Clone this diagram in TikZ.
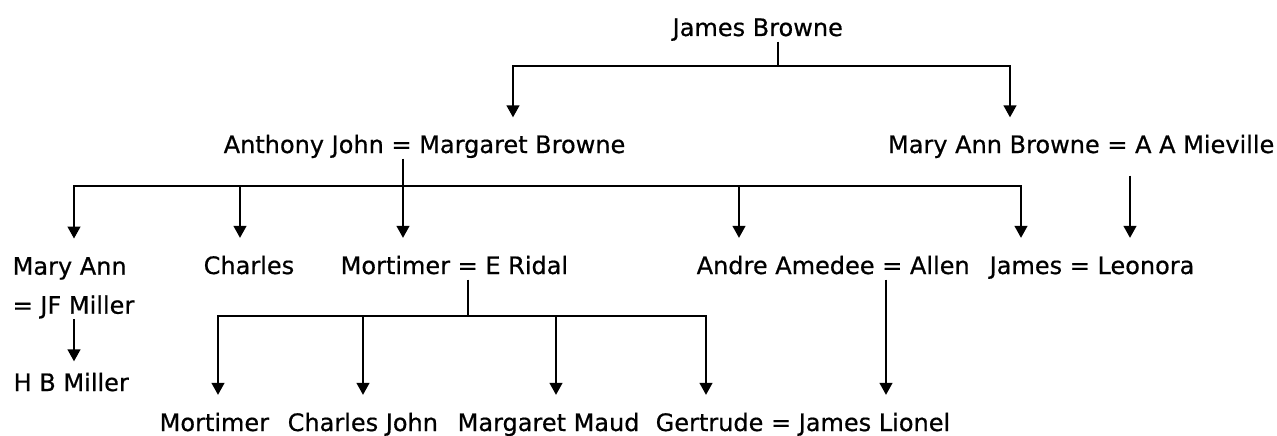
\documentclass[tikz,border=0pt]{standalone}
\usepackage{fontspec}
\setmainfont[FakeBold=0.6]{DejaVu Sans}
\usepackage{tikz}
\usetikzlibrary{arrows.meta}

\begin{document}
\begin{tikzpicture}[>={Triangle[length=12pt,width=13pt]},x=1pt,y=-1pt,
                    line width=1.4pt,font=\fontsize{24}{29}\selectfont]
  \tikzstyle{person}=[inner sep=0pt,text height=17.5pt,text depth=5pt,
    anchor=base west]
  \tikzstyle{couple}=[inner sep=0pt,align=left,anchor=north west,
    font=\fontsize{24}{39}\selectfont]
  \tikzstyle{child}=[->,shorten >=18pt]
  \useasboundingbox (0,0) rectangle (1277,436);
  \node[person] (jb) at (672,36) {James Browne};
  \node[person] (aj) at (223,153) {Anthony John = Margaret Browne};
  \node[person,anchor=base east] (mab) at (1275,153) {Mary Ann Browne = A A Mieville};
  \node[couple] (ma) at (12,256.5) {Mary Ann\\= JF Miller};
  \node[person] (ch) at (203,274) {Charles};
  \node[person] (mr) at (340,274) {Mortimer = E Ridal};
  \node[person] (aa) at (696,274) {Andre Amedee = Allen};
  \node[person] (jl) at (989,274) {James = Leonora};
  \node[person] (hb) at (13,391) {H B Miller};
  \node[person] (mo) at (159,431) {Mortimer};
  \node[person] (cj) at (287,431) {Charles John};
  \node[person] (mm) at (457,431) {Margaret Maud};
  \node[person] (ge) at (655,431) {Gertrude = James Lionel};
  \coordinate (jb-fork) at (778,66);
  \coordinate (aj-fork) at (403,186);
  \coordinate (mr-fork) at (468,316);
  % James Browne
  \draw (jb.south -| jb-fork) -- (jb-fork);
  \draw[child,shorten >=17.5pt] (jb-fork) -| (aj.north -| 513,0);
  \draw[child,shorten >=17.5pt] (jb-fork) -| (mab.north -| 1010,0);
  % Anthony John
  \draw (aj.south -| aj-fork) -- (aj-fork);
  \draw[child] (aj-fork) -| (ma.north -| 74,0);
  \draw[child] (aj-fork) -| (ch.north -| 240,0);
  \draw[child] (aj-fork) -| (mr.north -| 403,0);
  \draw[child] (aj-fork) -| (aa.north -| 739,0);
  \draw[child] (aj-fork) -| (jl.north -| 1021,0);
  % Mary Ann Browne
  \draw[child,shorten <=17pt] (mab.south -| 1130,0) -- (jl.north -| 1130,0);
  % Mary Ann
  \draw[child,shorten >=11.5pt] (ma.south -| 74,0) -- (hb.north -| 74,0);
  % Mortimer
  \draw (mr.south -| mr-fork) -- (mr-fork);
  \draw[child] (mr-fork) -| (mo.north -| 218,0);
  \draw[child] (mr-fork) -| (cj.north -| 363,0);
  \draw[child] (mr-fork) -| (mm.north -| 556,0);
  \draw[child] (mr-fork) -| (ge.north -| 706,0);
  % Andre Amedee
  \draw[child] (aa.south -| 886,0) -- (ge.north -| 886,0);
\end{tikzpicture}
\end{document}
